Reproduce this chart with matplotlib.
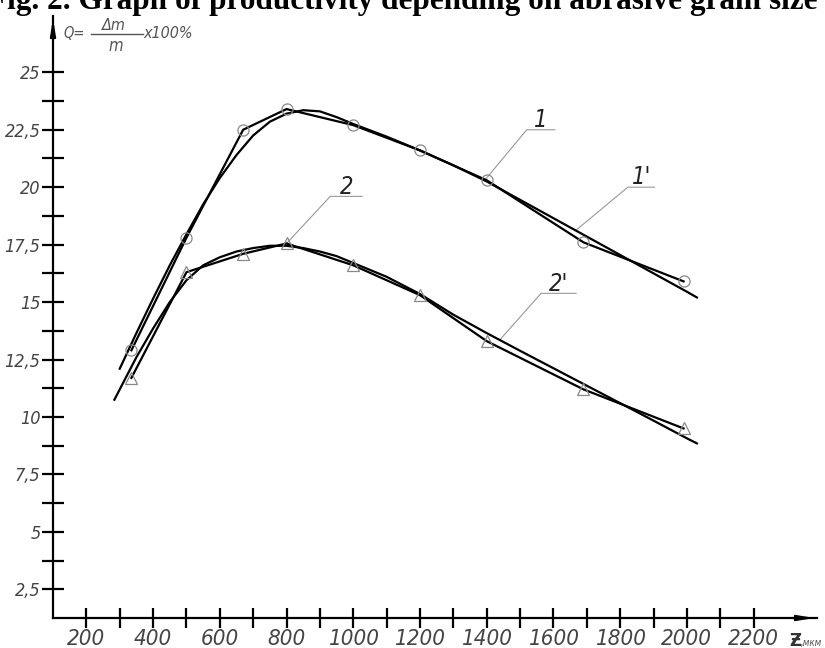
import matplotlib
matplotlib.use('Agg')
import matplotlib.pyplot as plt
from matplotlib import font_manager
from matplotlib.ticker import FixedLocator, FuncFormatter

# experimental points (curve 1 - circles, curve 2 - triangles)
grain_size = [335, 500, 670, 800, 1000, 1200, 1400, 1690, 1990]
q_curve1 = [12.9, 17.8, 22.5, 23.4, 22.7, 21.6, 20.3, 17.6, 15.9]
q_curve2 = [11.7, 16.3, 17.1, 17.55, 16.6, 15.3, 13.3, 11.2, 9.5]

# approximating curves 1' and 2'
fit1_x = [300, 350, 400, 450, 500, 550, 600, 650, 700, 750, 800, 850, 900, 950,
          1000, 1100, 1200, 1300, 1400, 1500, 1600, 1700, 1800, 1900, 2000, 2030]
fit1_y = [12.1, 13.65, 15.15, 16.6, 17.95, 19.25, 20.4, 21.4, 22.25, 22.85, 23.2, 23.35, 23.3, 23.05,
          22.75, 22.2, 21.6, 20.95, 20.25, 19.45, 18.65, 17.85, 17.05, 16.25, 15.45, 15.2]
fit2_x = [284, 350, 400, 450, 500, 550, 600, 650, 700, 750, 800, 850, 900, 950,
          1000, 1100, 1200, 1300, 1400, 1500, 1600, 1700, 1800, 1900, 2000, 2030]
fit2_y = [10.75, 12.6, 13.85, 15.0, 15.95, 16.6, 16.95, 17.2, 17.35, 17.45, 17.45, 17.35, 17.2, 17.0,
          16.7, 16.1, 15.35, 14.45, 13.65, 12.88, 12.12, 11.36, 10.6, 9.84, 9.07, 8.85]

x_major = list(range(200, 2201, 200))
x_minor = list(range(300, 2101, 200))
y_major = [2.5, 5, 7.5, 10, 12.5, 15, 17.5, 20, 22.5, 25]
y_minor = [3.75, 6.25, 8.75, 11.25, 13.75, 16.25, 18.75, 21.25, 23.75]

# curve labels: text, leader start (on curve), elbow, end of underline
curve_labels = [
    ("1", (1394, 20.3), (1520, 22.5), (1604, 22.5)),
    ("1'", (1668, 18.13), (1823, 20.0), (1903, 20.0)),
    ("2", (800, 17.55), (931, 19.6), (1027, 19.6)),
    ("2'", (1439, 13.35), (1563, 15.38), (1668, 15.38)),
]

# narrow drawing-style font if one is installed
narrow_name, narrow_stretch = None, 'normal'
for f in font_manager.fontManager.ttflist:
    if 'Narrow' in f.name or 'Condensed' in f.name or f.stretch in ('condensed', 'semi-condensed'):
        narrow_name, narrow_stretch = f.name, f.stretch
        break
if narrow_name:
    FONT = [narrow_name, 'DejaVu Sans']
    x_size, y_size, lab_size = 16, 13, 17
else:
    FONT = ['DejaVu Sans']
    x_size, y_size, lab_size = 13.5, 12, 16

W, H = 825, 648


def fx(px):
    return px / W


def fy(py):
    return 1 - py / H


fig = plt.figure(figsize=(8.25, 6.48), dpi=100)
ax = fig.add_axes([fx(53), fy(618), fx(817) - fx(53), fy(16) - fy(618)])

ax.plot(grain_size, q_curve1, color='black', lw=1.6, zorder=3)
ax.plot(grain_size, q_curve2, color='black', lw=1.6, zorder=3)
ax.plot(fit1_x, fit1_y, color='black', lw=1.6, zorder=3)
ax.plot(fit2_x, fit2_y, color='black', lw=1.6, zorder=3)
ax.plot(grain_size, q_curve1, ls='none', marker='o', ms=8, mfc='none', mec='#888888', mew=0.9, zorder=4)
ax.plot(grain_size, q_curve2, ls='none', marker='^', ms=8, mfc='none', mec='#888888', mew=0.9, zorder=4)

for txt, p0, p1, p2 in curve_labels:
    ax.plot([p0[0], p1[0], p2[0]], [p0[1], p1[1], p2[1]], color='#999999', lw=0.8, zorder=2)
    ax.text((p1[0] + p2[0]) / 2, p1[1] + 0.12, txt, ha='center', va='baseline',
            fontsize=lab_size, style='italic', family=FONT, stretch=narrow_stretch, color='#222222')

ax.set_xlim(100, 2390)
ax.set_ylim(1.25, 27.45)

for side in ('top', 'right'):
    ax.spines[side].set_visible(False)
for side in ('left', 'bottom'):
    ax.spines[side].set_linewidth(1.6)

ax.xaxis.set_major_locator(FixedLocator(x_major))
ax.xaxis.set_minor_locator(FixedLocator(x_minor))
ax.yaxis.set_major_locator(FixedLocator(y_major))
ax.yaxis.set_minor_locator(FixedLocator(y_minor))
ax.yaxis.set_major_formatter(FuncFormatter(lambda v, p: f"{v:g}".replace('.', ',')))
ax.tick_params(axis='x', which='both', direction='inout', length=14, width=1.6, pad=1,
               labelsize=x_size, labelcolor='#444444')
ax.tick_params(axis='y', which='both', direction='inout', length=16, width=1.6, pad=1,
               labelsize=y_size, labelcolor='#444444')
for lab in ax.get_xticklabels() + ax.get_yticklabels():
    lab.set_family(FONT)
    lab.set_stretch(narrow_stretch)
    lab.set_style('italic')

# axis arrows
ax.annotate('', xy=(0, 1), xytext=(0, 0.97), xycoords='axes fraction',
            arrowprops=dict(arrowstyle='-|>,head_length=0.9,head_width=0.15', color='black', lw=1.6))
ax.annotate('', xy=(1, 0), xytext=(0.975, 0), xycoords='axes fraction',
            arrowprops=dict(arrowstyle='-|>,head_length=0.9,head_width=0.15', color='black', lw=1.6))

# y label: Q = dm/m x100%
lab_kw = dict(style='italic', family=FONT, stretch=narrow_stretch, color='#555555')
fig.text(fx(63), fy(33), "Q=", ha='left', va='center', fontsize=10.5, **lab_kw)
fig.text(fx(114), fy(26), "Δm", ha='center', va='center', fontsize=11.5, **lab_kw)
fig.text(fx(116), fy(46), "m", ha='center', va='center', fontsize=12, **lab_kw)
fig.add_artist(plt.Line2D([fx(91), fx(143)], [fy(34), fy(34)], color='#555555', lw=1.0))
fig.text(fx(143), fy(34), "x100%", ha='left', va='center', fontsize=11.5, **lab_kw)

# x label
fig.text(fx(789), fy(641), "Ƶ", ha='left', va='center', fontsize=12, fontweight='bold',
         family='DejaVu Sans', color='#333333')
fig.text(fx(801), fy(643), ",мкм", ha='left', va='center', fontsize=7, **lab_kw)

fig.text(fx(818), fy(9), "Fig. 2. Graph of productivity depending on abrasive grain size",
         ha='right', va='baseline', fontsize=22.5, fontweight='bold', family='Liberation Serif')

fig.savefig('out.png', dpi=100)
